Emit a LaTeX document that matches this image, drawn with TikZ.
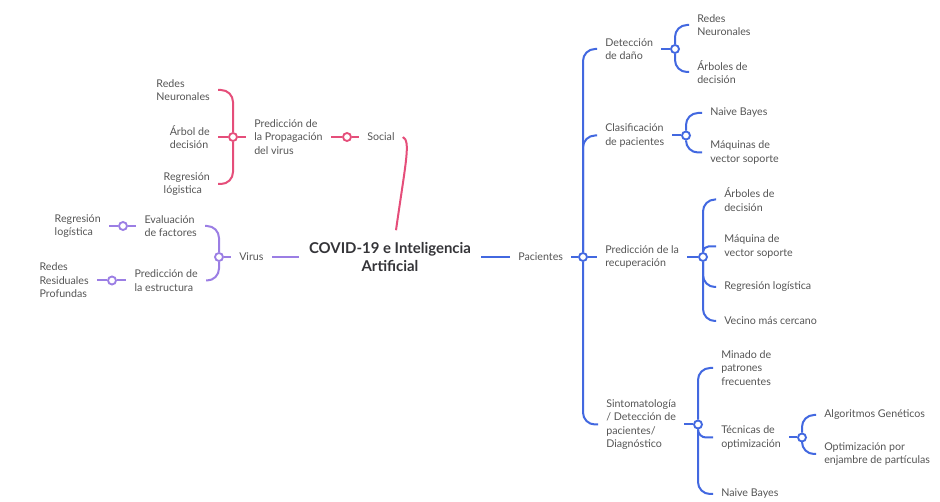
\documentclass[tikz,border=0pt]{standalone}
\usepackage{fontspec}
\setmainfont{Lato}
\usepackage{tikz}
\usetikzlibrary{calc}
\definecolor{mypink}{RGB}{229, 78, 122}
\definecolor{mypurple}{RGB}{155, 126, 228}
\definecolor{myblue}{RGB}{66, 104, 224}
\definecolor{mygray}{RGB}{85, 85, 85}
\definecolor{mydark}{RGB}{52, 52, 56}

\begin{document}
\begin{tikzpicture}[x=0.75pt,y=-0.75pt]

\tikzstyle{txt} = [inner xsep=6, inner ysep=2, text=mygray,
font=\fontsize{8}{10.1}\selectfont, align=left]
\tikzstyle{title} = [inner xsep=7.5, inner ysep=6, text=mydark,
font=\fontsize{11.2}{13.4}\selectfont\bfseries, align=center]
\tikzstyle{pinkln} = [draw=mypink, line width=1.5, rounded corners=9]
\tikzstyle{purpln} = [draw=mypurple, line width=1.5, rounded corners=9]
\tikzstyle{blueln} = [draw=myblue, line width=1.5, rounded corners=9]
\tikzstyle{jdot} = [circle, fill=white, line width=1.4, minimum size=6, inner sep=0]

\useasboundingbox (0,0) rectangle (940,502);

% centre
\node [title] (covid) at (390,257) {COVID-19 e Inteligencia\\Artificial};

% social branch (pink)
\node [txt, anchor=west] (social) at (359,137) {Social};
\node [txt, anchor=west] (predprop) at (246,137) {Predicción de\\la Propagación\\del virus};
\node [txt, anchor=east] (redes1) at (218,90) {Redes\\Neuronales};
\node [txt, anchor=east] (arbol1) at (218,137) {Árbol de\\decisión};
\node [txt, anchor=east] (regres1) at (218,184) {Regresión\\lógistica};
\node [jdot, draw=mypink] (jSoc) at (347,137) {};
\node [jdot, draw=mypink] (jProp) at (233,137) {};

\draw [pinkln] (social.east) .. controls +(8,4) and +(10,-70) .. ($(covid.north)+(6,-4)$);
\draw [pinkln] (jSoc) -- (social.west);
\draw [pinkln] (jSoc) -- (predprop.east);
\draw [pinkln] (jProp) -- (predprop.west);
\draw [pinkln] (jProp) |- (redes1.east);
\draw [pinkln] (jProp) -- (arbol1.east);
\draw [pinkln] (jProp) |- (regres1.east);

% virus branch (purple)
\node [txt, anchor=west] (virus) at (231,257) {Virus};
\node [txt, anchor=east] (evalfac) at (205,226) {Evaluación\\de factores};
\node [txt, anchor=east] (predest) at (206,280.5) {Predicción de\\la estructura};
\node [txt, anchor=east] (regres2) at (109,226) {Regresión\\logística};
\node [txt, anchor=east] (redres) at (97,280.5) {Redes\\Residuales\\Profundas};
\node [jdot, draw=mypurple] (jVir) at (219,257) {};
\node [jdot, draw=mypurple] (jEval) at (123,226) {};
\node [jdot, draw=mypurple] (jPest) at (112,280.5) {};

\draw [purpln] (covid.west) -- (virus.east);
\draw [purpln] (jVir) -- (virus.west);
\draw [purpln] (jVir) |- (evalfac.east);
\draw [purpln] (jVir) |- (predest.east);
\draw [purpln] (jEval) -- (evalfac.west);
\draw [purpln] (jEval) -- (regres2.east);
\draw [purpln] (jPest) -- (predest.west);
\draw [purpln] (jPest) -- (redres.east);

% pacientes branch (blue)
\node [txt, anchor=west] (pac) at (510,257) {Pacientes};
\node [txt, anchor=west] (detec) at (597,49) {Detección\\de daño};
\node [txt, anchor=west] (clasif) at (597,135.5) {Clasificación\\de pacientes};
\node [txt, anchor=west] (predrec) at (597,257) {Predicción de la\\recuperación};
\node [txt, anchor=west] (sinto) at (598,424.5) {Sintomatología\\/ Detección de\\pacientes/\\Diagnóstico};
\node [jdot, draw=myblue] (jPac) at (583,257) {};

\draw [blueln] (covid.east) -- (pac.west);
\draw [blueln] (jPac) -- (pac.east);
\draw [blueln] (jPac) |- (detec.west);
\draw [blueln] (jPac) |- (clasif.west);
\draw [blueln] (jPac) -- (predrec.west);
\draw [blueln] (jPac) |- (sinto.west);

% deteccion
\node [txt, anchor=west] (redes2) at (689,25) {Redes\\Neuronales};
\node [txt, anchor=west] (arbol2) at (689,72) {Árboles de\\decisión};
\node [jdot, draw=myblue] (jDet) at (675,49) {};
\draw [blueln] (jDet) -- (detec.east);
\draw [blueln] (jDet) |- (redes2.west);
\draw [blueln] (jDet) |- (arbol2.west);

% clasificacion
\node [txt, anchor=west] (naive1) at (702,113) {Naive Bayes};
\node [txt, anchor=west] (maqsv1) at (702,152.5) {Máquinas de\\vector soporte};
\node [jdot, draw=myblue] (jCla) at (686,135.5) {};
\draw [blueln] (jCla) -- (clasif.east);
\draw [blueln] (jCla) |- (naive1.west);
\draw [blueln] (jCla) |- (maqsv1.west);

% recuperacion
\node [txt, anchor=west] (arbol3) at (716,199.5) {Árboles de\\decisión};
\node [txt, anchor=west] (maqsv2) at (716,246.5) {Máquina de\\vector soporte};
\node [txt, anchor=west] (regres3) at (716,287) {Regresión logística};
\node [txt, anchor=west] (vecino) at (716,321) {Vecino más cercano};
\node [jdot, draw=myblue] (jRec) at (703,257) {};
\draw [blueln] (jRec) -- (predrec.east);
\draw [blueln] (jRec) |- (arbol3.west);
\draw [blueln, rounded corners=4] (jRec) |- (maqsv2.west);
\draw [blueln] (jRec) |- (regres3.west);
\draw [blueln] (jRec) |- (vecino.west);

% sintomatologia
\node [txt, anchor=west] (minado) at (713,368) {Minado de\\patrones\\frecuentes};
\node [txt, anchor=west] (tecnic) at (713,437.5) {Técnicas de\\optimización};
\node [txt, anchor=west] (naive2) at (713,494) {Naive Bayes};
\node [jdot, draw=myblue] (jSin) at (698,424.5) {};
\draw [blueln] (jSin) -- (sinto.east);
\draw [blueln] (jSin) |- (minado.west);
\draw [blueln, rounded corners=6] (jSin) |- (tecnic.west);
\draw [blueln] (jSin) |- (naive2.west);

% tecnicas
\node [txt, anchor=west] (algor) at (816,415) {Algoritmos Genéticos};
\node [txt, anchor=west] (enjam) at (816,454) {Optimización por\\enjambre de partículas};
\node [jdot, draw=myblue] (jTec) at (802,437.5) {};
\draw [blueln] (jTec) -- (tecnic.east);
\draw [blueln] (jTec) |- (algor.west);
\draw [blueln] (jTec) |- (enjam.west);

\end{tikzpicture}
\end{document}
